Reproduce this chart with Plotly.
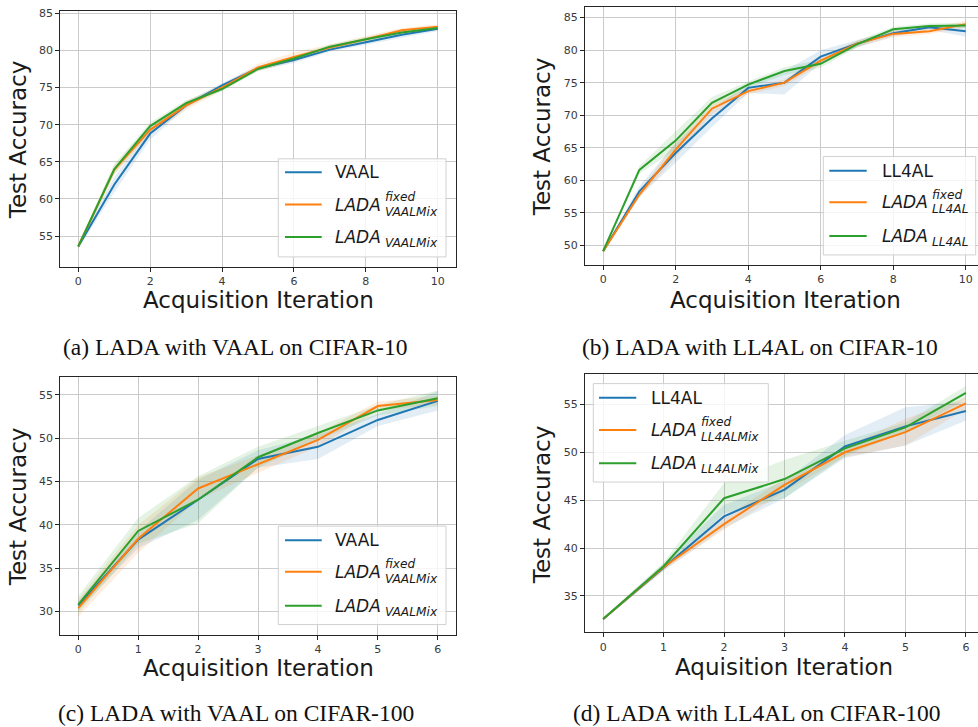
import plotly.graph_objects as go

W, H = 978, 727

# ---------------- data ----------------
iters_10 = [0, 1, 2, 3, 4, 5, 6, 7, 8, 9, 10]
iters_6 = [0, 1, 2, 3, 4, 5, 6]

# (a) VAAL on CIFAR-10
a_vaal = [53.6, 61.9, 68.8, 72.6, 75.3, 77.6, 78.7, 80.1, 81.1, 82.1, 82.9]
a_fixed = [53.6, 63.9, 69.3, 72.6, 75.0, 77.7, 79.1, 80.4, 81.5, 82.7, 83.2]
a_lada = [53.6, 64.0, 69.8, 72.9, 74.8, 77.5, 78.9, 80.5, 81.5, 82.4, 83.0]
a_vaal_sd = [0.3, 1.0, 0.8, 0.4, 0.3, 0.3, 0.4, 0.3, 0.3, 0.4, 0.3]
a_fixed_sd = [0.3, 0.6, 0.6, 0.6, 0.4, 0.5, 0.6, 0.4, 0.3, 0.3, 0.3]
a_lada_sd = [0.3, 0.7, 0.5, 0.4, 0.3, 0.3, 0.3, 0.3, 0.3, 0.3, 0.3]

# (b) LL4AL on CIFAR-10
b_ll4al = [49.1, 58.3, 64.2, 69.5, 74.2, 75.0, 79.0, 81.0, 82.6, 83.5, 82.9]
b_fixed = [49.1, 57.8, 64.7, 71.0, 73.7, 75.0, 78.4, 81.0, 82.5, 82.9, 84.0]
b_lada = [49.1, 61.6, 66.1, 71.9, 74.7, 76.8, 77.9, 80.9, 83.2, 83.7, 83.8]
b_ll4al_sd = [0.2, 0.8, 1.5, 1.3, 0.8, 1.8, 1.0, 0.6, 0.5, 0.4, 0.8]
b_fixed_sd = [0.2, 0.5, 1.2, 0.8, 0.5, 0.5, 0.6, 0.5, 0.5, 0.4, 0.5]
b_lada_sd = [0.2, 0.6, 1.4, 0.9, 0.5, 0.6, 0.6, 0.5, 0.4, 0.4, 0.4]

# (c) VAAL on CIFAR-100
c_vaal = [30.7, 38.3, 42.9, 47.6, 49.0, 52.1, 54.3]
c_fixed = [30.4, 38.4, 44.2, 47.0, 49.8, 53.7, 54.4]
c_lada = [30.8, 39.3, 42.9, 47.8, 50.6, 53.2, 54.6]
c_vaal_sd = [0.5, 1.0, 2.3, 1.0, 1.4, 0.7, 1.1]
c_fixed_sd = [1.0, 1.6, 1.3, 1.0, 0.8, 0.5, 0.5]
c_lada_sd = [1.0, 1.5, 2.7, 1.2, 0.8, 0.6, 0.9]

# (d) LL4AL on CIFAR-100
d_ll4al = [32.6, 38.0, 43.3, 46.1, 50.6, 52.7, 54.3]
d_fixed = [32.6, 38.0, 42.5, 46.6, 50.0, 52.1, 55.1]
d_lada = [32.6, 38.1, 45.2, 47.2, 50.4, 52.6, 56.2]
d_ll4al_sd = [0.1, 0.4, 1.2, 0.9, 1.2, 2.0, 1.0]
d_fixed_sd = [0.1, 0.3, 0.6, 0.7, 0.5, 1.4, 0.6]
d_lada_sd = [0.1, 0.4, 1.6, 2.0, 0.8, 0.5, 0.7]

captions = ["(a) LADA with VAAL on CIFAR-10", "(b) LADA with LL4AL on CIFAR-10",
            "(c) LADA with VAAL on CIFAR-100", "(d) LADA with LL4AL on CIFAR-100"]
xtitles = ["Acquisition Iteration", "Acquisition Iteration",
           "Acquisition Iteration", "Aquisition Iteration"]
ytitle = "Test Accuracy"

# ---------------- styling ----------------
BLUE, ORANGE, GREEN = "#1f77b4", "#ff7f0e", "#2ca02c"
FILLS = {BLUE: "rgba(31,119,180,0.13)", ORANGE: "rgba(255,127,14,0.13)", GREEN: "rgba(44,160,44,0.13)"}
SANS = "DejaVu Sans"
SERIF = "Liberation Serif"


def px(x):
    return x / W


def py(y):
    return 1 - y / H


fig = go.Figure()

panels = [
    dict(x=iters_10, series=[(a_vaal, a_vaal_sd, BLUE), (a_fixed, a_fixed_sd, ORANGE), (a_lada, a_lada_sd, GREEN)],
         dom_x=(60.3, 455.7), dom_y=(6.7, 264), xr=(-0.5, 10.5), yr=(50.89, 85.35), dtx=2,
         yticks=[55, 60, 65, 70, 75, 80, 85], mirror=True),
    dict(x=iters_10, series=[(b_ll4al, b_ll4al_sd, BLUE), (b_fixed, b_fixed_sd, ORANGE), (b_lada, b_lada_sd, GREEN)],
         dom_x=(585, 978), dom_y=(2.7, 262.3), xr=(-0.5, 10.34), yr=(47.0, 86.68), dtx=2,
         yticks=[50, 55, 60, 65, 70, 75, 80, 85], mirror=False),
    dict(x=iters_6, series=[(c_vaal, c_vaal_sd, BLUE), (c_fixed, c_fixed_sd, ORANGE), (c_lada, c_lada_sd, GREEN)],
         dom_x=(60.3, 455.7), dom_y=(375, 634), xr=(-0.3, 6.3), yr=(27.36, 57.06), dtx=1,
         yticks=[30, 35, 40, 45, 50, 55], mirror=True),
    dict(x=iters_6, series=[(d_ll4al, d_ll4al_sd, BLUE), (d_fixed, d_fixed_sd, ORANGE), (d_lada, d_lada_sd, GREEN)],
         dom_x=(585, 978), dom_y=(371.7, 631.7), xr=(-0.3, 6.2), yr=(31.22, 58.2), dtx=1,
         yticks=[35, 40, 45, 50, 55], mirror=False),
]

layout_axes = {}
for i, p in enumerate(panels):
    n = "" if i == 0 else str(i + 1)
    xa, ya = "x" + n, "y" + n
    x = p["x"]
    for vals, sd, col in p["series"]:
        up = [v + s for v, s in zip(vals, sd)]
        lo = [v - s for v, s in zip(vals, sd)]
        fig.add_trace(go.Scatter(x=x + x[::-1], y=up + lo[::-1], fill="toself", fillcolor=FILLS[col],
                                 line=dict(width=0), mode="lines", hoverinfo="skip", showlegend=False,
                                 xaxis=xa, yaxis=ya))
    for vals, sd, col in p["series"]:
        fig.add_trace(go.Scatter(x=x, y=vals, mode="lines", line=dict(color=col, width=2),
                                 showlegend=False, xaxis=xa, yaxis=ya))
    common = dict(showgrid=True, gridcolor="#cbcbcb", gridwidth=1, zeroline=False,
                  showline=True, linecolor="#262626", linewidth=1.2,
                  ticks="outside", ticklen=4, tickwidth=1, tickcolor="#262626",
                  tickfont=dict(family=SANS, size=11, color="#3a3a3a"))
    layout_axes["xaxis" + n] = dict(common, domain=[px(p["dom_x"][0]), px(p["dom_x"][1])],
                                    range=list(p["xr"]), tickmode="linear", tick0=0, dtick=p["dtx"],
                                    anchor=ya, mirror=True)
    layout_axes["yaxis" + n] = dict(common, domain=[py(p["dom_y"][1]), py(p["dom_y"][0])],
                                    range=list(p["yr"]), tickmode="array", tickvals=p["yticks"],
                                    anchor=xa, mirror=p["mirror"])

annotations = []
shapes = []

# axis titles
ytitle_pos = [(18, 137), (542, 134), (18, 506), (542, 504)]
xtitle_pos = [(258, 298), (785, 298), (258, 668), (783.5, 667)]
for i in range(4):
    annotations.append(dict(x=px(ytitle_pos[i][0]), y=py(ytitle_pos[i][1]), xref="paper", yref="paper",
                            text=ytitle, textangle=-90, showarrow=False, xanchor="center", yanchor="middle",
                            font=dict(family=SANS, size=23, color="#1a1a1a")))
    annotations.append(dict(x=px(xtitle_pos[i][0]), y=py(xtitle_pos[i][1]), xref="paper", yref="paper",
                            text=xtitles[i], showarrow=False, xanchor="center", yanchor="middle",
                            font=dict(family=SANS, size=23, color="#1a1a1a")))

# captions
cap_pos = [(235, 345), (760, 345), (236, 713), (757, 713)]
for i in range(4):
    annotations.append(dict(x=px(cap_pos[i][0]), y=py(cap_pos[i][1]), xref="paper", yref="paper",
                            text=captions[i], showarrow=False, xanchor="center", yanchor="middle",
                            font=dict(family=SERIF, size=23.5, color="#111111")))

# custom legends (matplotlib style with stacked super/subscripts)
legends = [
    dict(box=(278.3, 155.7, 446, 254.3), line_x=(285, 321.7), ys=(169.3, 201.7, 234.3), tx=335,
         base="VAAL", sub_f="VAALMix", sub_l="VAALMix"),
    dict(box=(823.3, 153.3, 975.7, 252.3), line_x=(829.3, 866.7), ys=(167.7, 199.3, 233.3), tx=881.7,
         base="LL4AL", sub_f="LL4AL", sub_l="LL4AL"),
    dict(box=(278.3, 525, 446, 624), line_x=(285, 321.7), ys=(539.3, 571, 605), tx=335,
         base="VAAL", sub_f="VAALMix", sub_l="VAALMix"),
    dict(box=(593.3, 381.7, 768.3, 480.7), line_x=(599, 636.3), ys=(396, 428.3, 461.7), tx=651.3,
         base="LL4AL", sub_f="LL4ALMix", sub_l="LL4ALMix"),
]
for lg in legends:
    x0, y0, x1, y1 = lg["box"]
    shapes.append(dict(type="rect", xref="paper", yref="paper", x0=px(x0), x1=px(x1), y0=py(y1), y1=py(y0),
                       line=dict(color="rgba(204,204,204,0.9)", width=1), fillcolor="rgba(255,255,255,0.8)",
                       layer="above"))
    for yy, col in zip(lg["ys"], [BLUE, ORANGE, GREEN]):
        shapes.append(dict(type="line", xref="paper", yref="paper", x0=px(lg["line_x"][0]), x1=px(lg["line_x"][1]),
                           y0=py(yy), y1=py(yy), line=dict(color=col, width=2), layer="above"))
    tx = lg["tx"]
    fnt = dict(family=SANS, size=17, color="#1a1a1a")
    small = dict(family=SANS, size=12.2, color="#1a1a1a")
    annotations.append(dict(x=px(tx - 1), y=py(lg["ys"][0]), xref="paper", yref="paper", text=lg["base"],
                            showarrow=False, xanchor="left", yanchor="middle", font=fnt, borderpad=0))
    # LADA^fixed_sub
    annotations.append(dict(x=px(tx - 1), y=py(lg["ys"][1]), xref="paper", yref="paper", text="<i>LADA</i>",
                            showarrow=False, xanchor="left", yanchor="middle", font=fnt, borderpad=0))
    annotations.append(dict(x=px(tx + 49), y=py(lg["ys"][1] - 7.5), xref="paper", yref="paper", text="<i>fixed</i>",
                            showarrow=False, xanchor="left", yanchor="middle", font=small, borderpad=0))
    annotations.append(dict(x=px(tx + 49), y=py(lg["ys"][1] + 7), xref="paper", yref="paper",
                            text="<i>" + lg["sub_f"] + "</i>",
                            showarrow=False, xanchor="left", yanchor="middle", font=small, borderpad=0))
    # LADA_sub
    annotations.append(dict(x=px(tx - 1), y=py(lg["ys"][2]), xref="paper", yref="paper", text="<i>LADA</i>",
                            showarrow=False, xanchor="left", yanchor="middle", font=fnt, borderpad=0))
    annotations.append(dict(x=px(tx + 49), y=py(lg["ys"][2] + 6), xref="paper", yref="paper",
                            text="<i>" + lg["sub_l"] + "</i>",
                            showarrow=False, xanchor="left", yanchor="middle", font=small, borderpad=0))

fig.update_layout(width=W, height=H, margin=dict(l=0, r=0, t=0, b=0), paper_bgcolor="white",
                  plot_bgcolor="white", showlegend=False, annotations=annotations, shapes=shapes,
                  **layout_axes)

fig.write_html("out.html")
